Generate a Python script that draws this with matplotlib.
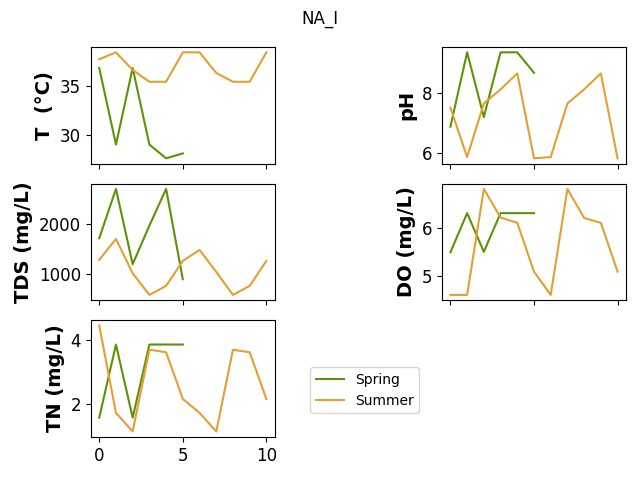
import numpy as np
import matplotlib
matplotlib.use("Agg")
import matplotlib.pyplot as plt

# values, one list per parameter
spring_x = [0, 1, 2, 3, 4, 5]
summer_x = [0, 1, 2, 3, 4, 5, 6, 7, 8, 9, 10]

T_spring = [36.8, 29.0, 36.8, 29.0, 27.6, 28.1]
T_summer = [37.7, 38.4, 36.6, 35.4, 35.4, 38.4, 38.4, 36.3, 35.4, 35.4, 38.4]

pH_spring = [6.89, 9.36, 7.21, 9.36, 9.36, 8.68]
pH_summer = [7.52, 5.88, 7.66, 8.13, 8.66, 5.84, 5.88, 7.66, 8.13, 8.66, 5.84]

TDS_spring = [1714, 2700, 1194, 1966, 2700, 894]
TDS_summer = [1283, 1700, 1013, 580, 760, 1260, 1480, 1040, 580, 760, 1260]

DO_spring = [5.49, 6.30, 5.50, 6.30, 6.30, 6.30]
DO_summer = [4.61, 4.61, 6.80, 6.21, 6.10, 5.09, 4.61, 6.80, 6.20, 6.10, 5.09]

TN_spring = [1.58, 3.85, 1.58, 3.85, 3.85, 3.85]
TN_summer = [4.44, 1.73, 1.15, 3.69, 3.61, 2.16, 1.73, 1.15, 3.69, 3.61, 2.16]

labels = ["T  (\u00b0C)", "pH", "TDS (mg/L)", "DO (mg/L)", "TN (mg/L)"]
spring = [T_spring, pH_spring, TDS_spring, DO_spring, TN_spring]
summer = [T_summer, pH_summer, TDS_summer, DO_summer, TN_summer]

c_spring = "#5a9406"
c_summer = "#e89d33"

fig, axes = plt.subplots(3, 2, sharex=True, figsize=(6.4, 4.8), dpi=100)
fig.suptitle("NA_I", fontsize=12)
axs = axes.flatten()
for i, ax in enumerate(axs[:5]):
    ax.plot(spring_x, spring[i], color=c_spring, label="Spring")
    ax.plot(summer_x, summer[i], color=c_summer, label="Summer")
    ax.set_ylabel(labels[i], fontsize=14, fontweight="bold")
    ax.tick_params(labelsize=12)
    ax.set_xticks([0, 5, 10])

axs[5].axis("off")
axs[4].legend(loc="center left", bbox_to_anchor=(1.155, 0.4))

plt.subplots_adjust(left=0.142, right=0.978, top=0.902, bottom=0.09,
                    wspace=0.91, hspace=0.172)
plt.savefig("out.png")
